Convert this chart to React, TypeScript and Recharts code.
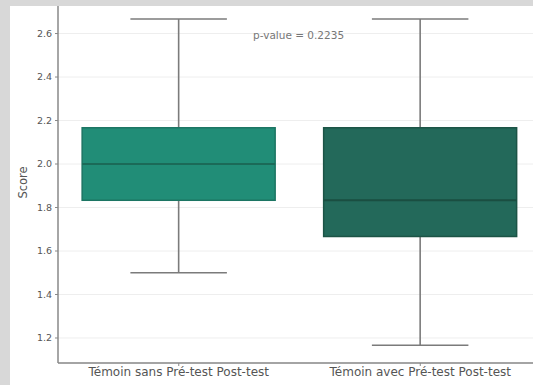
import React from 'react';
import { ComposedChart, Bar, XAxis, YAxis, CartesianGrid } from 'recharts';

const categories = ['Témoin sans Pré-test Post-test', 'Témoin avec Pré-test Post-test'];
const whiskerLow = [1.5, 1.1667];
const q1 = [1.8333, 1.6667];
const median = [2.0, 1.8333];
const q3 = [2.1667, 2.1667];
const whiskerHigh = [2.6667, 2.6667];
const yTicks = [1.2, 1.4, 1.6, 1.8, 2.0, 2.2, 2.4, 2.6];
const pValueText = 'p-value = 0.2235';

const fills = ['#218d77', '#23695a'];
const edges = ['#1c7563', '#1c5446'];
const medians = ['#1b6a58', '#1a4e41'];

const data = categories.map((name, i) => ({
  name,
  idx: i,
  range: [whiskerLow[i], whiskerHigh[i]],
  lo: whiskerLow[i],
  hi: whiskerHigh[i],
  q1: q1[i],
  med: median[i],
  q3: q3[i],
}));

const BoxShape = (props: any) => {
  const { x, y, width, height, payload } = props;
  const top = Math.min(y, y + height);
  const h = Math.abs(height);
  const p = payload;
  const yOf = (v: number) => top + ((p.hi - v) / (p.hi - p.lo)) * h;
  const cx = x + width / 2;
  const capHalf = width / 4;
  const i = p.idx;
  const whisk = '#7b7b7b';
  return (
    <g>
      <line x1={cx} x2={cx} y1={yOf(p.hi)} y2={yOf(p.q3)} stroke={whisk} strokeWidth={1.6} />
      <line x1={cx} x2={cx} y1={yOf(p.q1)} y2={yOf(p.lo)} stroke={whisk} strokeWidth={1.6} />
      <line x1={cx - capHalf} x2={cx + capHalf} y1={yOf(p.hi)} y2={yOf(p.hi)} stroke={whisk} strokeWidth={1.6} />
      <line x1={cx - capHalf} x2={cx + capHalf} y1={yOf(p.lo)} y2={yOf(p.lo)} stroke={whisk} strokeWidth={1.6} />
      <rect
        x={x}
        y={yOf(p.q3)}
        width={width}
        height={yOf(p.q1) - yOf(p.q3)}
        fill={fills[i]}
        stroke={edges[i]}
        strokeWidth={1.5}
      />
      <line x1={x} x2={x + width} y1={yOf(p.med)} y2={yOf(p.med)} stroke={medians[i]} strokeWidth={2} />
    </g>
  );
};

export default function App() {
  return (
    <div
      style={{
        position: 'absolute',
        left: 0,
        top: 0,
        width: 533,
        height: 385,
        overflow: 'hidden',
        background: '#ffffff',
        fontFamily: 'DejaVu Sans, sans-serif',
      }}
    >
      <ComposedChart
        width={560}
        height={385}
        data={data}
        margin={{ top: 2, right: 19, bottom: 0, left: 0 }}
        barCategoryGap="10%"
      >
        <CartesianGrid horizontal vertical={false} stroke="#eeeeee" strokeWidth={1} />
        <XAxis
          dataKey="name"
          height={22}
          tick={{ fontSize: 12, fill: '#555' }}
          tickSize={3}
          tickMargin={1}
          axisLine={{ stroke: '#888', strokeWidth: 1.5 }}
          tickLine={{ stroke: '#888' }}
        />
        <YAxis
          type="number"
          domain={[1.085, 2.745]}
          ticks={yTicks}
          width={58}
          tickFormatter={(v: number) => v.toFixed(1)}
          tick={{ fontSize: 9.5, fill: '#555' }}
          tickSize={3}
          tickMargin={3}
          axisLine={{ stroke: '#888', strokeWidth: 1.5 }}
          tickLine={{ stroke: '#888' }}
          label={{ value: 'Score', angle: -90, position: 'insideLeft', offset: 23, style: { fontSize: 11.5, fill: '#555', textAnchor: 'middle' } }}
        />
        <Bar dataKey="range" isAnimationActive={false} shape={<BoxShape />} />
      </ComposedChart>
      <div
        style={{
          position: 'absolute',
          left: 253,
          top: 29,
          fontSize: 10.5,
          color: '#777',
          whiteSpace: 'nowrap',
        }}
      >
        {pValueText}
      </div>
      <div style={{ position: 'absolute', left: 0, top: 0, width: 533, height: 6, background: '#d8d8d8' }} />
      <div style={{ position: 'absolute', left: 0, top: 0, width: 10, height: 385, background: '#d8d8d8' }} />
    </div>
  );
}
